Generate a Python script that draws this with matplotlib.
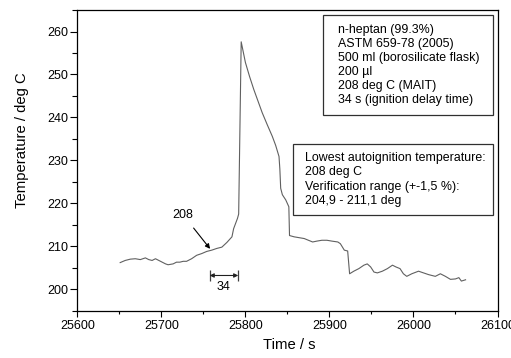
import matplotlib
matplotlib.use("Agg")
import matplotlib.pyplot as plt
from matplotlib.patches import Rectangle
from matplotlib.ticker import MultipleLocator

plt.rcParams["font.family"] = ["Liberation Sans", "DejaVu Sans"]

# Temperature record of the flask during the autoignition test
time_s = [25651, 25657, 25663, 25669, 25675, 25681, 25685, 25689, 25693, 25699,
          25705, 25708, 25714, 25718, 25722, 25726, 25730, 25736, 25742, 25748,
          25754, 25760, 25766, 25772, 25778, 25784, 25786, 25790.6, 25792,
          25795, 25800, 25805, 25810, 25815, 25820, 25826, 25832, 25836, 25840,
          25841, 25842, 25844, 25848, 25851.7, 25852.5, 25858, 25864, 25870,
          25875, 25880, 25885, 25891, 25897, 25903, 25910, 25913, 25917.7,
          25921.7, 25924, 25929, 25935, 25941, 25945, 25949, 25953, 25957,
          25963, 25969, 25975, 25979, 25984, 25988, 25992, 25998, 26006,
          26012, 26018, 26026, 26032, 26038, 26044, 26050, 26054, 26057, 26062]
temp_c = [206.2, 206.7, 207.0, 207.1, 206.9, 207.3, 206.9, 206.7, 207.1, 206.5,
          205.9, 205.7, 205.9, 206.3, 206.3, 206.5, 206.5, 207.1, 207.9, 208.3,
          208.8, 209.1, 209.5, 209.8, 210.9, 212.2, 214.1, 216.5, 217.5,
          257.6, 252.8, 249.5, 246.5, 243.8, 241.1, 238.3, 235.6, 233.5, 230.9,
          228.0, 223.5, 222.0, 220.8, 219.2, 212.5, 212.2, 212.0, 211.8,
          211.4, 211.0, 211.2, 211.4, 211.4, 211.2, 211.0, 210.6, 209.1,
          208.9, 203.6, 204.2, 204.8, 205.6, 205.9, 205.2, 204.0, 203.8,
          204.2, 204.8, 205.6, 205.2, 204.8, 203.6, 203.0, 203.6, 204.2,
          203.8, 203.4, 203.0, 203.6, 203.0, 202.3, 202.4, 202.7, 201.9, 202.2]

x_ticks = [25600, 25700, 25800, 25900, 26000, 26100]
y_ticks = [200, 210, 220, 230, 240, 250, 260]

mait_label = "208"
mait_time = 25758
mait_temp = 209.4
ignition_start = 25757.5
ignition_delay = 34

info_lines = ["n-heptan (99.3%)", "ASTM 659-78 (2005)", "500 ml (borosilicate flask)",
              "200 µl", "208 deg C (MAIT)", "34 s (ignition delay time)"]
result_lines = ["Lowest autoignition temperature:", "208 deg C",
                "Verification range (+-1,5 %):", "204,9 - 211,1 deg"]

W, H = 511, 358
fig = plt.figure(figsize=(W / 100, H / 100), dpi=100)
ax = fig.add_axes([0.1513, 0.1321, 0.8223, 0.8399])

ax.plot(time_s, temp_c, color="#606060", lw=0.8)

ax.set_xlim(25600, 26100)
ax.set_ylim(195, 265)
ax.set_xticks(x_ticks)
ax.set_yticks(y_ticks)
ax.xaxis.set_minor_locator(MultipleLocator(50))
ax.yaxis.set_minor_locator(MultipleLocator(5))
ax.tick_params(axis="x", which="major", length=4, width=0.8, pad=3, labelsize=9)
ax.tick_params(axis="x", which="minor", length=2.5, width=0.8)
ax.tick_params(axis="y", which="major", length=5, width=0.8, pad=1.5, labelsize=9)
ax.tick_params(axis="y", which="minor", length=3.3, width=0.8)
for s in ax.spines.values():
    s.set_linewidth(0.9)

fig.text(22.5 / W, 1 - 140.5 / H, "Temperature / deg C", rotation=90,
         ha="center", va="center", fontsize=10.7)
fig.text(289 / W, 1 - 345 / H, "Time / s", ha="center", va="center",
         fontsize=10.7)

# MAIT marker
ax.annotate(mait_label, xy=(mait_time, mait_temp), xytext=(25726, 217.3),
            ha="center", va="center", fontsize=9,
            arrowprops=dict(arrowstyle="-|>", color="black", lw=0.8,
                            mutation_scale=7, shrinkA=4, shrinkB=0))

# ignition delay bracket
ign_end = ignition_start + ignition_delay
ax.vlines([ignition_start, ign_end], 201.8, 204.5, color="#404040", lw=0.9)
ax.annotate("", xy=(ignition_start, 203.2), xytext=(ign_end, 203.2),
            arrowprops=dict(arrowstyle="<|-|>", color="#202020", lw=0.8,
                            mutation_scale=6, shrinkA=0, shrinkB=0))
ax.text(ignition_start + ignition_delay / 2, 200.6, str(ignition_delay),
        ha="center", va="center", fontsize=9)


def text_box(x0, y0, x1, y1, text_x, lines):
    """Framed text block given in figure pixels from the top-left corner."""
    rect = Rectangle((x0 / W, 1 - y1 / H), (x1 - x0) / W, (y1 - y0) / H,
                     transform=fig.transFigure, fc="white", ec="#303030",
                     lw=0.9, zorder=5)
    fig.add_artist(rect)
    fig.text(text_x / W, 1 - (y0 + y1) / 2 / H, "\n".join(lines),
             ha="left", va="center", fontsize=8.9, linespacing=1.24, zorder=6)


text_box(323.3, 15, 493, 115, 338, info_lines)
text_box(293.3, 144, 492.7, 215, 305, result_lines)

fig.savefig("out.png", dpi=100)
